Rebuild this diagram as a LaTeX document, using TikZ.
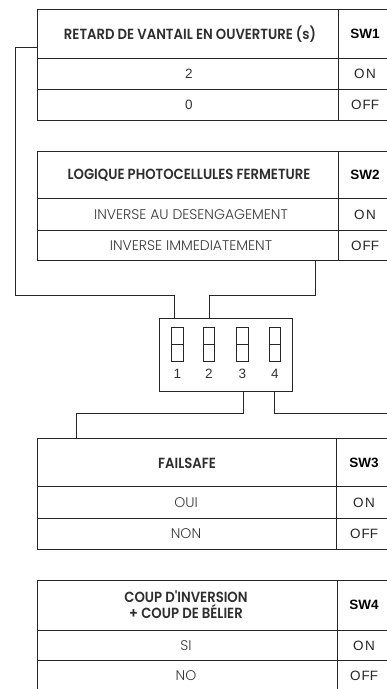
\documentclass[tikz,border=0pt]{standalone}
\usepackage{fontspec}
\setmainfont{Liberation Sans}
\newfontfamily\hdfont[FakeStretch=0.9]{Poppins SemiBold}
\newfontfamily\ltfont{Poppins Light}
\newfontfamily\arfont{Liberation Sans}
\begin{document}
\begin{tikzpicture}[x=1pt,y=-1pt,
  ln/.style={line width=0.9pt, draw=black!85},
  hdr/.style={font=\hdfont\fontsize{14.7}{16}\selectfont, text=black!82, inner sep=0pt, align=center},
  val/.style={font=\ltfont\fontsize{14}{15}\selectfont, text=black!78, inner sep=0pt},
  num/.style={font=\arfont\fontsize{13.5}{15}\selectfont, text=black!80, inner sep=0pt},
  swl/.style={font=\arfont\bfseries\fontsize{13.5}{15}\selectfont, text=black, inner sep=0pt},
  onoff/.style={font=\arfont\fontsize{13.5}{15}\selectfont, text=black!85, inner sep=0pt},
  dipsw/.style={line width=0.9pt, draw=black!85, minimum width=11.5pt, minimum height=34pt, inner sep=0pt, rectangle},
]
\useasboundingbox (0,0) rectangle (387,689);
\clip (0,0) rectangle (387,689);
\fill[white] (0,0) rectangle (387,689);

% ---------- Table 1 ----------
\draw[ln] (37,9) rectangle (395,120);
\draw[ln] (37,58) -- (395,58);
\draw[ln] (37,89) -- (395,89);
\draw[ln] (338,9) -- (338,120);
\node[hdr] (h1) at (190,34) {RETARD DE VANTAIL EN OUVERTURE (s)};
\node[swl] (s1) at (365,34) {SW1};
\node[num] (v1a) at (189,74) {2};
\node[onoff] (o1a) at (365,74) {O\hspace{1.5pt}N};
\node[num] (v1b) at (189,105) {0};
\node[onoff] (o1b) at (365,105) {O\hspace{1pt}FF};

% ---------- Table 2 ----------
\draw[ln] (37,151) rectangle (395,260);
\draw[ln] (37,198) -- (395,198);
\draw[ln] (37,230) -- (395,230);
\draw[ln] (338,151) -- (338,260);
\node[hdr] (h2) at (189,175) {LOGIQUE PHOTOCELLULES FERMETURE};
\node[swl] (s2) at (365,175) {SW2};
\node[val] (v2a) at (191,214.5) {INVERSE AU DESENGAGEMENT};
\node[onoff] (o2a) at (365,214.5) {O\hspace{1.5pt}N};
\node[val] (v2b) at (191,245.5) {INVERSE IMMEDIATEMENT};
\node[onoff] (o2b) at (365,245.5) {O\hspace{1pt}FF};

% ---------- DIP switch ----------
\node[ln, rectangle, minimum width=133pt, minimum height=73pt, inner sep=0pt] (dip) at (225.5,354.5) {};
\node[dipsw] (d1) at (177.5,344) {};
\node[dipsw] (d2) at (209,344) {};
\node[dipsw] (d3) at (242.5,344) {};
\node[dipsw] (d4) at (275,344) {};
\foreach \i in {1,2,3,4}{\draw[ln] (d\i.west) -- (d\i.east);}
\node[num] (n1) at (177.5,374) {1};
\node[num] (n2) at (209,374) {2};
\node[num] (n3) at (242.5,374) {3};
\node[num] (n4) at (275,374) {4};

% ---------- Connectors ----------
\coordinate (t1w) at (37,47);
\coordinate (k1) at (15,47);
\coordinate (k2) at (15,295);
\coordinate (k3) at (174,295);
\coordinate (dipa) at (174,318);
\draw[ln] (t1w) -- (k1) -- (k2) -- (k3) -- (dipa);

\coordinate (t2s) at (315,260);
\coordinate (m1) at (315,295);
\coordinate (m2) at (209,295);
\coordinate (dipb) at (209,318);
\draw[ln] (t2s) -- (m1) -- (m2) -- (dipb);

\coordinate (dipc) at (243,391);
\coordinate (p1) at (243,413);
\coordinate (p2) at (76,413);
\coordinate (t3n) at (76,438);
\draw[ln] (dipc) -- (p1) -- (p2) -- (t3n);

\coordinate (dipd) at (274,391);
\coordinate (q1) at (274,413);
\coordinate (q2) at (395,413);
\draw[ln] (dipd) -- (q1) -- (q2);

% ---------- Table 3 ----------
\draw[ln] (37,438) rectangle (395,549);
\draw[ln] (37,486) -- (395,486);
\draw[ln] (37,518) -- (395,518);
\draw[ln] (336,438) -- (336,549);
\node[hdr] (h3) at (187,463) {FAILSAFE};
\node[swl] (s3) at (364,463) {SW3};
\node[val] (v3a) at (186,502.5) {OUI};
\node[onoff] (o3a) at (364,502.5) {O\hspace{1.5pt}N};
\node[val] (v3b) at (186,534) {NON};
\node[onoff] (o3b) at (364,534) {O\hspace{1pt}FF};

% ---------- Table 4 ----------
\draw[ln] (37,580) rectangle (395,700);
\draw[ln] (37,630) -- (395,630);
\draw[ln] (37,660) -- (395,660);
\draw[ln] (337,580) -- (337,700);
\node[hdr] (h4) at (186,605) {COUP D'INVERSION\\+ COUP DE BÉLIER};
\node[swl] (s4) at (364,605) {SW4};
\node[val] (v4a) at (186,645.5) {SI};
\node[onoff] (o4a) at (364,645.5) {O\hspace{1.5pt}N};
\node[val] (v4b) at (186,675.5) {NO};
\node[onoff] (o4b) at (364,675.5) {O\hspace{1pt}FF};
\end{tikzpicture}
\end{document}
